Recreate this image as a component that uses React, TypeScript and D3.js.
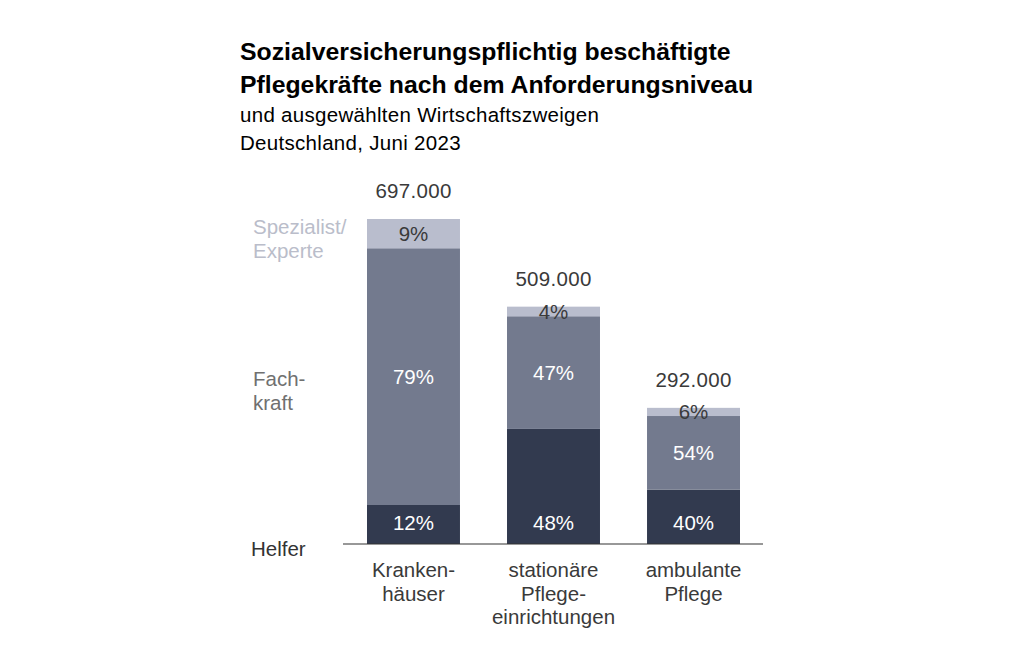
import React, { useEffect, useRef } from 'react'
import * as d3 from 'd3'

// data
const categories = ['Krankenhäuser', 'stationäre Pflegeeinrichtungen', 'ambulante Pflege']
const categoryLines = [['Kranken-', 'häuser'], ['stationäre', 'Pflege-', 'einrichtungen'], ['ambulante', 'Pflege']]
const totals = [697000, 509000, 292000]
const helfer = [12, 48, 40]
const fachkraft = [79, 47, 54]
const spezialist = [9, 4, 6]
const levels = ['Helfer', 'Fachkraft', 'Spezialist/Experte']
const levelLines = [['Helfer'], ['Fach-', 'kraft'], ['Spezialist/', 'Experte']]

const colors = ['#323a4f', '#737a8e', '#b9bdcd']
const labelColors = ['#333333', '#707070', '#babdca']
const font = '"Liberation Sans", Arial, sans-serif'

const App = () => {
  const svgRef = useRef<SVGSVGElement>(null)

  useEffect(() => {
    const width = 1024
    const height = 669
    const svg = d3.select(svgRef.current)
    svg.selectAll('*').remove()
    svg.attr('width', width).attr('height', height).attr('font-family', font)

    const base = 544
    const top = 219

    const x = d3.scaleBand()
      .domain(categories)
      .range([367, 740])
      .paddingInner(0.336)
      .paddingOuter(0)

    const y = d3.scaleLinear()
      .domain([0, 697000])
      .range([base, top])

    // title
    const title = svg.append('g').attr('fill', '#000')
    title.append('text').attr('x', 240).attr('y', 60)
      .attr('font-size', 24.8).attr('font-weight', 'bold')
      .text('Sozialversicherungspflichtig beschäftigte')
    title.append('text').attr('x', 240).attr('y', 93)
      .attr('font-size', 24.8).attr('font-weight', 'bold')
      .text('Pflegekräfte nach dem Anforderungsniveau')
    title.append('text').attr('x', 240).attr('y', 122)
      .attr('font-size', 20.5).attr('letter-spacing', 0.3).text('und ausgewählten Wirtschaftszweigen')
    title.append('text').attr('x', 240).attr('y', 150)
      .attr('font-size', 20.5).attr('letter-spacing', 0.3).text('Deutschland, Juni 2023')

    // stacked bars
    const rows = categories.map((c, i) => ({
      cat: c,
      total: totals[i],
      shares: [helfer[i], fachkraft[i], spezialist[i]]
    }))

    rows.forEach(r => {
      const sum = d3.sum(r.shares)
      let acc = 0
      r.shares.forEach((s, k) => {
        const v0 = r.total * acc / sum
        acc += s
        const v1 = r.total * acc / sum
        svg.append('rect')
          .attr('x', x(r.cat)!)
          .attr('width', x.bandwidth())
          .attr('y', y(v1))
          .attr('height', y(v0) - y(v1))
          .attr('fill', colors[k])
        const ly = k === 0 ? base - 21 : (y(v0) + y(v1)) / 2
        svg.append('text')
          .attr('x', x(r.cat)! + x.bandwidth() / 2)
          .attr('y', ly)
          .attr('dy', '0.35em')
          .attr('text-anchor', 'middle')
          .attr('font-size', 20.5)
          .attr('fill', k === 2 ? '#3a3a3a' : '#ffffff')
          .text(s + '%')
      })
      svg.append('text')
        .attr('x', x(r.cat)! + x.bandwidth() / 2)
        .attr('y', y(r.total) - 21)
        .attr('text-anchor', 'middle')
        .attr('font-size', 20.5)
        .attr('letter-spacing', 0.3)
        .attr('fill', '#3a3a3a')
        .text(d3.format(',')(r.total).replace(/,/g, '.'))
    })

    // baseline
    svg.append('line')
      .attr('x1', 343).attr('x2', 763)
      .attr('y1', base).attr('y2', base)
      .attr('stroke', '#333').attr('stroke-width', 1.2)

    // category labels
    categories.forEach((c, i) => {
      const cx = x(c)! + x.bandwidth() / 2
      const t = svg.append('text')
        .attr('x', cx)
        .attr('y', 570)
        .attr('dy', '0.35em')
        .attr('text-anchor', 'middle')
        .attr('font-size', 20.5)
        .attr('fill', '#3a3a3a')
      categoryLines[i].forEach((l, j) => {
        t.append('tspan').attr('x', cx).attr('dy', j === 0 ? '0.35em' : 23.5).text(l)
      })
    })

    // level labels on the left, next to first bar
    const levelY = [549, 379, 227]
    levels.forEach((lv, k) => {
      const lx = k === 0 ? 251 : 253
      const t = svg.append('text')
        .attr('x', lx)
        .attr('y', levelY[k])
        .attr('font-size', 20.5)
        .attr('fill', labelColors[k])
      levelLines[k].forEach((l, j) => {
        t.append('tspan').attr('x', lx).attr('dy', j === 0 ? '0.35em' : 24).text(l)
      })
    })
  }, [])

  return <svg ref={svgRef} style={{ position: 'absolute', left: 0, top: 0 }} />
}

export default App
